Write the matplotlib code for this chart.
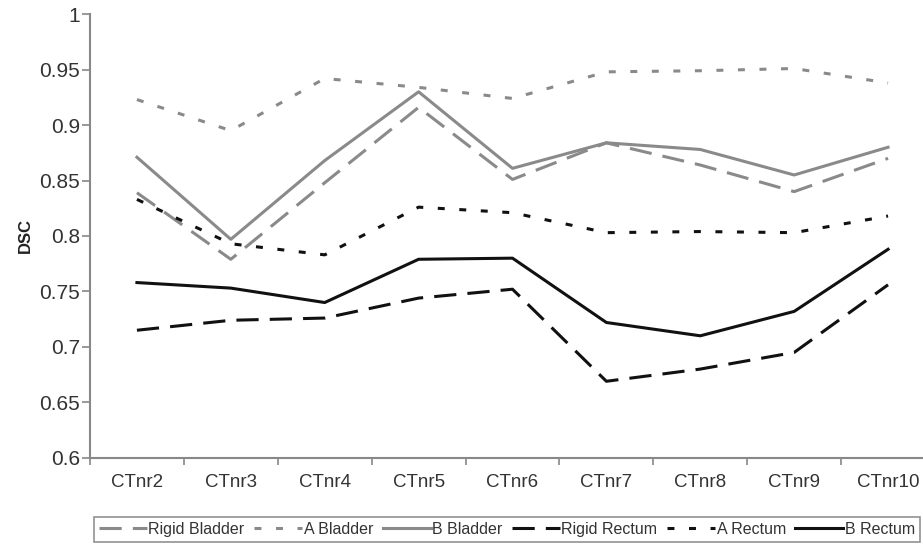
import matplotlib
matplotlib.use('Agg')
import matplotlib.pyplot as plt

plt.rcParams['font.family'] = ['Liberation Sans', 'DejaVu Sans']
plt.rcParams['lines.scale_dashes'] = False

cases = ['CTnr2', 'CTnr3', 'CTnr4', 'CTnr5', 'CTnr6', 'CTnr7', 'CTnr8', 'CTnr9', 'CTnr10']

# DSC per CT case
rigid_bladder = [0.839, 0.779, 0.848, 0.916, 0.851, 0.884, 0.864, 0.840, 0.870]
a_bladder     = [0.923, 0.895, 0.942, 0.934, 0.924, 0.948, 0.949, 0.951, 0.938]
b_bladder     = [0.871, 0.797, 0.868, 0.930, 0.861, 0.884, 0.878, 0.855, 0.880]
rigid_rectum  = [0.715, 0.724, 0.726, 0.744, 0.752, 0.669, 0.680, 0.695, 0.756]
a_rectum      = [0.833, 0.793, 0.783, 0.826, 0.821, 0.803, 0.804, 0.803, 0.818]
b_rectum      = [0.758, 0.753, 0.740, 0.779, 0.780, 0.722, 0.710, 0.732, 0.788]

grey = '#8a8a8a'
black = '#111111'
long_dash = (0, (16, 8))
short_dash = (0, (5, 10.5))

fig = plt.figure(figsize=(9.23, 5.45), dpi=100)
ax = fig.add_axes([0.0975, 0.16, 0.9155, 0.814])

x = list(range(1, len(cases) + 1))
ax.plot(x, rigid_bladder, color=grey, lw=2.2, ls=long_dash, label='Rigid Bladder')
ax.plot(x, a_bladder, color=grey, lw=2.2, ls=short_dash, label='A Bladder')
ax.plot(x, b_bladder, color=grey, lw=2.2, ls='-', label='B Bladder')
ax.plot(x, rigid_rectum, color=black, lw=2.2, ls=long_dash, label='Rigid Rectum')
ax.plot(x, a_rectum, color=black, lw=2.2, ls=short_dash, label='A Rectum')
ax.plot(x, b_rectum, color=black, lw=2.2, ls='-', label='B Rectum')

ax.set_xlim(0.5, len(cases) + 0.5)
ax.set_ylim(0.6, 1.0)
ax.set_yticks([0.6, 0.65, 0.7, 0.75, 0.8, 0.85, 0.9, 0.95, 1.0])
ax.set_yticklabels(['0.6', '0.65', '0.7', '0.75', '0.8', '0.85', '0.9', '0.95', '1'])

# category labels centred, tick marks between categories
ax.set_xticks(x)
ax.set_xticklabels(cases)
ax.set_xticks([i + 0.5 for i in range(len(cases) + 1)], minor=True)
ax.tick_params(axis='x', which='major', length=0, pad=12, labelsize=13.5, labelcolor='#333333')
ax.tick_params(axis='x', which='minor', length=5, width=1.2, color='#888888')
ax.tick_params(axis='y', length=6, width=1.2, color='#888888', labelsize=15,
               labelcolor='#333333', pad=1)

for side in ['top', 'right']:
    ax.spines[side].set_visible(False)
for side in ['left', 'bottom']:
    ax.spines[side].set_color('#888888')
    ax.spines[side].set_linewidth(1.5)

ax.set_ylabel('DSC', fontsize=12, fontweight='bold', color='#222222', labelpad=5)

leg = fig.legend(loc='lower left', bbox_to_anchor=(0.102, 0.006), ncol=6,
                 fontsize=11.5, frameon=True, fancybox=False, handlelength=3.0,
                 handletextpad=0.1, columnspacing=0.6, borderpad=0.3,
                 borderaxespad=0, labelcolor='#333333')
leg.get_frame().set_edgecolor('#777777')
leg.get_frame().set_linewidth(1.2)

fig.savefig('out.png', dpi=100)
